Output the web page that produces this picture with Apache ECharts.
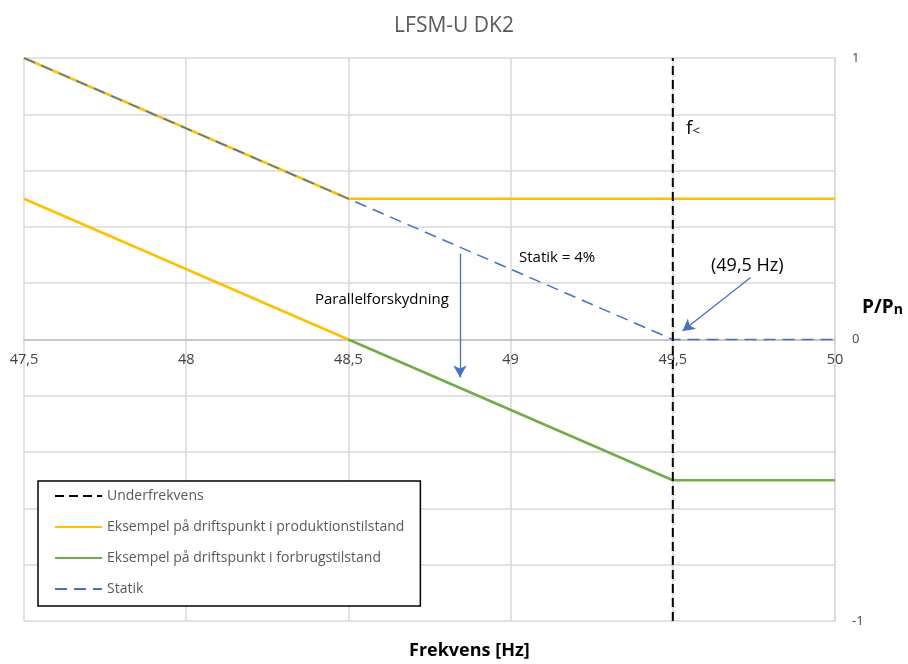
<!DOCTYPE html>
<html>
<head>
<meta charset="utf-8">
<script src="https://cdn.jsdelivr.net/npm/echarts@6/dist/echarts.min.js"></script>
<style>html,body{margin:0;padding:0;background:#fff}#c{width:908px;height:664px}</style>
</head>
<body>
<div id="c"></div>
<script>
const xTicks = [47.5, 48, 48.5, 49, 49.5, 50];
const yTickLabels = [-1, 0, 1];
const underfrekvens = [[49.5, -1], [49.5, 1]];
const produktionUpper = [[47.5, 1], [48.5, 0.5], [50, 0.5]];
const produktionLower = [[47.5, 0.5], [48.5, 0]];
const forbrug = [[48.5, 0], [49.5, -0.5], [50, -0.5]];
const statik = [[47.5, 1], [49.5, 0], [50, 0]];
const arrowHz = [[49.74, 0.22], [49.53, 0.03]];
const arrowShift = [[48.844, 0.305], [48.844, -0.135]];

const FONT = '"Open Sans", "Noto Sans", sans-serif';
const chart = echarts.init(document.getElementById('c'));
const names = ['Underfrekvens', 'Eksempel på driftspunkt i produktionstilstand', 'Eksempel på driftspunkt i forbrugstilstand', 'Statik'];
const YEL = '#FFC000', GRN = '#70AD47', BLU = '#4472C4';
const GRID_TOP = 58, GRID_BOTTOM = 43, H = 664;
const plotH = H - GRID_TOP - GRID_BOTTOM;

chart.setOption({
  animation: false,
  textStyle: { fontFamily: FONT },
  title: {
    text: 'LFSM-U DK2', left: 'center', top: 11,
    textStyle: { fontFamily: FONT, fontSize: 21, fontWeight: 'normal', color: '#595959' }
  },
  grid: { left: 24, right: 73, top: GRID_TOP, bottom: GRID_BOTTOM, containLabel: false },
  legend: {
    orient: 'vertical', left: 38, top: 481,
    data: names,
    itemWidth: 47, itemHeight: 14, itemGap: 17,
    padding: [8, 16, 10, 16],
    borderColor: '#000', borderWidth: 1.5, backgroundColor: '#fff',
    itemStyle: { opacity: 0 },
    textStyle: { fontFamily: FONT, fontSize: 14, color: '#595959' }
  },
  xAxis: {
    type: 'value', min: 47.5, max: 50, interval: 0.5,
    offset: -plotH / 2,
    axisLine: { onZero: false, lineStyle: { color: '#BFBFBF', width: 1.5 } },
    axisTick: { show: false },
    axisLabel: {
      color: '#404040', fontSize: 14.5, margin: 13,
      formatter: v => { const t = xTicks.find(x => Math.abs(x - v) < 1e-6); return t === undefined ? '' : String(t).replace('.', ','); }
    },
    splitLine: { show: true, lineStyle: { color: '#D9D9D9', width: 1.5 } }
  },
  yAxis: {
    type: 'value', min: -1, max: 1, interval: 0.2, position: 'right',
    axisLine: { show: true, lineStyle: { color: '#D9D9D9', width: 1.5 } },
    axisTick: { show: false },
    axisLabel: {
      color: '#404040', fontSize: 13, margin: 17,
      formatter: v => { const t = yTickLabels.find(y => Math.abs(y - v) < 1e-6); return t === undefined ? '' : String(t); }
    },
    splitLine: { show: true, lineStyle: { color: '#D9D9D9', width: 1.5 } }
  },
  series: [
    {
      name: names[1], type: 'line', data: produktionUpper, symbol: 'none', z: 2,
      lineStyle: { color: YEL, width: 2.5 }, itemStyle: { color: YEL }
    },
    {
      name: names[1], type: 'line', data: produktionLower, symbol: 'none', z: 2,
      lineStyle: { color: YEL, width: 2.5 }, itemStyle: { color: YEL }
    },
    {
      name: names[2], type: 'line', data: forbrug, symbol: 'none', z: 2,
      lineStyle: { color: GRN, width: 2.5 }, itemStyle: { color: GRN }
    },
    {
      name: names[3], type: 'line', data: statik, symbol: 'none', z: 3,
      lineStyle: { color: BLU, width: 1.5, type: [12, 7] }, itemStyle: { color: BLU },
      markLine: {
        silent: true, symbol: ['none', 'arrow'], symbolSize: [10, 12],
        label: { show: false },
        lineStyle: { color: BLU, width: 1.3, type: 'solid' },
        data: [
          [{ coord: arrowHz[0] }, { coord: arrowHz[1] }],
          [{ coord: arrowShift[0] }, { coord: arrowShift[1] }]
        ]
      }
    },
    {
      name: names[0], type: 'line', data: underfrekvens, symbol: 'none', z: 4,
      lineStyle: { color: '#000', width: 2, type: [9, 5] }, itemStyle: { color: '#000' }
    }
  ],
  graphic: [
    { type: 'text', z: 100, left: 409, top: 642, style: { text: 'Frekvens [Hz]', font: 'bold 18px ' + FONT, fill: '#000' } },
    { type: 'text', z: 100, left: 862, top: 298, style: {
        text: '{a|P/P}{b|n}', rich: {
          a: { font: 'bold 19px ' + FONT, fill: '#000', verticalAlign: 'bottom' },
          b: { font: 'bold 14px ' + FONT, fill: '#000', verticalAlign: 'bottom' }
        } } },
    { type: 'text', z: 100, left: 686, top: 119, style: {
        text: '{a|f}{b|<}', rich: {
          a: { font: '19px ' + FONT, fill: '#000', verticalAlign: 'bottom' },
          b: { font: '13px ' + FONT, fill: '#000', verticalAlign: 'bottom' }
        } } },
    { type: 'text', z: 100, left: 711, top: 257, style: { text: '(49,5 Hz)', font: '18px ' + FONT, fill: '#000' } },
    { type: 'text', z: 100, left: 519, top: 250, style: { text: 'Statik = 4%', font: '15px ' + FONT, fill: '#000' } },
    { type: 'text', z: 100, left: 315, top: 292, style: { text: 'Parallelforskydning', font: '15px ' + FONT, fill: '#000' } }
  ]
});
</script>
</body>
</html>
